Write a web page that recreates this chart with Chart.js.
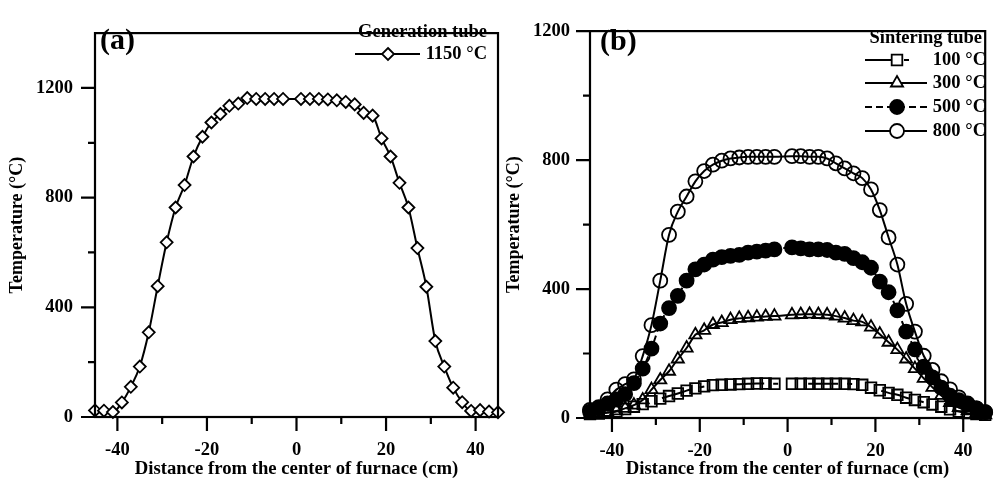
<!DOCTYPE html>
<html>
<head>
<meta charset="utf-8">
<script src="https://cdn.jsdelivr.net/npm/chart.js@4.4.1/dist/chart.umd.min.js"></script>
<style>
  html, body { margin: 0; padding: 0; background: #fff; }
  #wrap { position: relative; width: 995px; height: 481px; overflow: hidden; }
  #wrap div { position: absolute; top: 0; height: 481px; }
  #boxA { left: 0; width: 510px; }
  #boxB { left: 500px; width: 495px; }
</style>
</head>
<body>
<div id="wrap">
  <div id="boxA"><canvas id="chartA" width="510" height="481"></canvas></div>
  <div id="boxB"><canvas id="chartB" width="495" height="481"></canvas></div>
</div>
<script>
'use strict'

// measuring positions along the tube (cm), no reading at -1
var distance = [-45, -43, -41, -39, -37, -35, -33, -31, -29, -27, -25, -23, -21, -19, -17, -15, -13, -11, -9, -7, -5, -3,
                1, 3, 5, 7, 9, 11, 13, 15, 17, 19, 21, 23, 25, 27, 29, 31, 33, 35, 37, 39, 41, 43, 45];

// generation tube, set to 1150 C
var gen1150 = [24, 23, 18, 53, 110, 184, 309, 477, 637, 764, 846, 950, 1022, 1074, 1105, 1135, 1143, 1163, 1160, 1160, 1160, 1160,
               1160, 1160, 1160, 1158, 1155, 1149, 1140, 1109, 1099, 1016, 950, 854, 764, 616, 475, 277, 184, 107, 54, 22, 25, 20, 17];

// sintering tube at four set points
var sin100 = [12, 14, 17, 20, 28, 35, 43, 52, 60, 68, 76, 85, 92, 98, 102, 103, 104, 105, 106, 107, 107, 106,
              106, 106, 106, 106, 106, 106, 106, 105, 103, 94, 86, 78, 72, 63, 56, 49, 42, 35, 27, 20, 15, 12, 10];
var sin300 = [12, 14, 17, 22, 30, 40, 56, 88, 118, 145, 183, 217, 258, 272, 290, 296, 305, 309, 311, 313, 315, 316,
              320, 321, 322, 321, 320, 316, 310, 302, 298, 282, 260, 235, 212, 183, 153, 123, 95, 70, 48, 32, 22, 15, 10];
var sin500 = [20, 30, 45, 58, 74, 108, 153, 215, 293, 341, 379, 426, 461, 476, 491, 499, 503, 506, 513, 516, 519, 523,
              529, 526, 523, 523, 521, 513, 509, 496, 483, 466, 423, 390, 334, 268, 213, 159, 126, 94, 69, 55, 42, 30, 18];
var sin800 = [25, 34, 58, 88, 105, 120, 192, 288, 426, 568, 640, 687, 734, 766, 786, 798, 805, 808, 810, 810, 810, 810,
              812, 812, 810, 810, 805, 790, 774, 759, 744, 709, 645, 560, 476, 354, 268, 193, 149, 114, 89, 64, 45, 30, 18];

var xMajor = [-40, -20, 0, 20, 40];
var xMinor = [-30, -10, 10, 30];
var yMajor = [0, 400, 800, 1200];
var yMinor = [200, 600, 1000];

var SERIF = '"Liberation Serif", "Times New Roman", serif';
Chart.defaults.font.family = SERIF;
Chart.defaults.font.weight = 'bold';
Chart.defaults.color = '#000';

function pts(ys) {
  return distance.map(function (x, i) { return { x: x, y: ys[i] }; });
}

function marker(ctx, style, x, y, r, fill) {
  ctx.beginPath();
  if (style === 'rect') {
    var s = r * Math.SQRT1_2;
    ctx.rect(x - s, y - s, 2 * s, 2 * s);
  } else if (style === 'rectRot') {
    ctx.moveTo(x, y - r); ctx.lineTo(x + r, y); ctx.lineTo(x, y + r); ctx.lineTo(x - r, y);
    ctx.closePath();
  } else if (style === 'triangle') {
    ctx.moveTo(x, y - r);
    ctx.lineTo(x + r * 0.866, y + r * 0.5);
    ctx.lineTo(x - r * 0.866, y + r * 0.5);
    ctx.closePath();
  } else {
    ctx.arc(x, y, r, 0, Math.PI * 2);
  }
  ctx.fillStyle = fill;
  ctx.fill();
  ctx.stroke();
}

// frame, outward ticks, panel tag and legend
var decor = {
  id: 'decor',
  afterDraw: function (chart, args, o) {
    var ctx = chart.ctx, a = chart.chartArea;
    var sx = chart.scales.x, sy = chart.scales.y;
    ctx.save();
    ctx.strokeStyle = '#000';
    ctx.lineWidth = 2.2;
    ctx.setLineDash([]);
    ctx.strokeRect(a.left, a.top, a.right - a.left, a.bottom - a.top);

    ctx.beginPath();
    xMajor.forEach(function (v) { var p = sx.getPixelForValue(v); ctx.moveTo(p, a.bottom); ctx.lineTo(p, a.bottom + 14); });
    xMinor.forEach(function (v) { var p = sx.getPixelForValue(v); ctx.moveTo(p, a.bottom); ctx.lineTo(p, a.bottom + 7); });
    yMajor.forEach(function (v) { var p = sy.getPixelForValue(v); ctx.moveTo(a.left - 14, p); ctx.lineTo(a.left, p); });
    yMinor.forEach(function (v) { var p = sy.getPixelForValue(v); ctx.moveTo(a.left - 7, p); ctx.lineTo(a.left, p); });
    ctx.stroke();

    ctx.fillStyle = '#000';
    ctx.textBaseline = 'middle';
    ctx.textAlign = 'left';
    ctx.font = 'bold 30px ' + SERIF;
    ctx.fillText(o.tag, o.tagX, o.tagY);

    ctx.font = 'bold 18.5px ' + SERIF;
    ctx.textAlign = 'right';
    ctx.fillText(o.title, o.titleRight, o.titleY);

    chart.data.datasets.forEach(function (ds, i) {
      var y = o.rowY[i];
      ctx.strokeStyle = '#000';
      ctx.lineWidth = 2.2;
      ctx.setLineDash(ds.borderDash || []);
      ctx.beginPath();
      ctx.moveTo(o.lineFrom, y);
      ctx.lineTo(o.lineTo, y);
      ctx.stroke();
      ctx.setLineDash([]);
      ctx.lineWidth = ds.pointBorderWidth;
      var fill = ds.pointBackgroundColor === '#000' ? '#000' : '#fff';
      marker(ctx, ds.pointStyle, o.markerX, y, ds.pointRadius, fill);
      ctx.fillStyle = '#000';
      ctx.textAlign = 'right';
      ctx.fillText(ds.label, o.right, y);
    });
    ctx.restore();
  }
};

function series(label, ys, style, radius, fill, dash) {
  return {
    label: label,
    data: pts(ys),
    showLine: true,
    borderColor: '#000',
    borderWidth: 2,
    borderDash: dash,
    cubicInterpolationMode: 'monotone',
    pointStyle: style,
    pointRadius: radius,
    pointBorderColor: '#000',
    pointBackgroundColor: fill,
    pointBorderWidth: 1.8,
    clip: false
  };
}

function panelOptions(p) {
  return {
    responsive: false,
    animation: false,
    events: [],
    layout: { padding: { top: p.top, right: p.right, left: 0, bottom: 0 } },
    plugins: {
      legend: { display: false },
      tooltip: { enabled: false },
      decor: p.decor
    },
    scales: {
      x: {
        type: 'linear',
        min: -45,
        max: 45,
        afterFit: function (s) { s.height = p.xHeight; },
        afterBuildTicks: function (s) { s.ticks = xMajor.map(function (v) { return { value: v }; }); },
        grid: { display: false, drawTicks: false },
        border: { display: false },
        ticks: {
          padding: 22, maxRotation: 0, autoSkip: false,
          font: { size: 18.5, weight: 'bold' },
          callback: function (v) { return String(v); }
        },
        title: {
          display: true,
          text: 'Distance from the center of furnace (cm)',
          font: { size: 18.7, weight: 'bold' },
          padding: { top: 0, bottom: 1 }
        }
      },
      y: {
        type: 'linear',
        min: 0,
        max: p.yMax,
        afterFit: function (s) { s.width = p.yWidth; },
        afterBuildTicks: function (s) { s.ticks = yMajor.map(function (v) { return { value: v }; }); },
        grid: { display: false, drawTicks: false },
        border: { display: false },
        ticks: {
          padding: p.yPad,
          font: { size: 18.5, weight: 'bold' },
          callback: function (v) { return String(v); }
        },
        title: {
          display: true,
          text: 'Temperature (°C)',
          font: { size: 18, weight: 'bold' },
          padding: { top: p.yTitlePad, bottom: 0 }
        }
      }
    }
  };
}

new Chart(document.getElementById('chartA'), {
  type: 'scatter',
  data: {
    datasets: [series('1150 °C', gen1150, 'rectRot', 6, '#fff', [])]
  },
  options: panelOptions({
    top: 14, right: 12, xHeight: 64, yWidth: 95, yMax: 1400, yPad: 22, yTitlePad: 7,
    decor: {
      tag: '(a)', tagX: 100, tagY: 41,
      title: 'Generation tube', titleRight: 487, titleY: 32,
      right: 487, lineFrom: 355, lineTo: 420, markerX: 388, rowY: [54]
    }
  }),
  plugins: [decor]
});

new Chart(document.getElementById('chartB'), {
  type: 'scatter',
  data: {
    datasets: [
      series('100 °C', sin100, 'rect', 7.5, 'rgba(0,0,0,0)', [30, 9, 5, 30]),
      series('300 °C', sin300, 'triangle', 7, 'rgba(0,0,0,0)', []),
      series('500 °C', sin500, 'circle', 7, '#000', [7, 4]),
      series('800 °C', sin800, 'circle', 7, 'rgba(0,0,0,0)', [])
    ]
  },
  options: panelOptions({
    top: 15, right: 2, xHeight: 63, yWidth: 90, yMax: 1200, yPad: 20, yTitlePad: 4,
    decor: {
      tag: '(b)', tagX: 100, tagY: 42,
      title: 'Sintering tube', titleRight: 482, titleY: 38,
      right: 486, lineFrom: 365, lineTo: 427, markerX: 397, rowY: [60, 83, 107, 131]
    }
  }),
  plugins: [decor]
});
</script>
</body>
</html>
